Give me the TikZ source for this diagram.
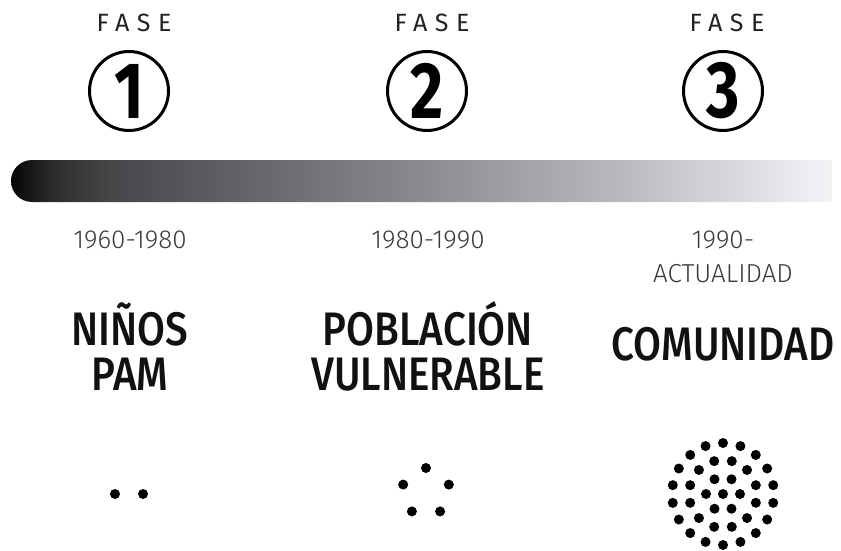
\documentclass[tikz,border=0pt]{standalone}
\usepackage{fontspec}
\usepackage{tikz}
\newfontfamily\lightfont{Fira Sans Light}
\newfontfamily\plainfont{Fira Sans}
\newfontfamily\condfont[FakeStretch=0.86]{Fira Sans Medium}
\newfontfamily\numfont[FakeStretch=0.8]{Fira Sans Bold}
\definecolor{inkgrey}{HTML}{222222}
\definecolor{dategrey}{HTML}{3A3A3A}
\definecolor{titleblack}{HTML}{111111}
\definecolor{bar0}{HTML}{050505}
\definecolor{bar1}{HTML}{2C2B2E}
\definecolor{bar2}{HTML}{464548}
\definecolor{bar3}{HTML}{5E5D62}
\definecolor{bar4}{HTML}{8C8A90}
\definecolor{bar5}{HTML}{BBBAC1}
\definecolor{bar6}{HTML}{F4F4F7}
\pgfdeclarehorizontalshading{timebar}{100bp}{color(0bp)=(bar0); color(25bp)=(bar0); color(27.5bp)=(bar1); color(31bp)=(bar2); color(37.5bp)=(bar3); color(50bp)=(bar4); color(62.5bp)=(bar5); color(75bp)=(bar6); color(100bp)=(bar6)}

\begin{document}
\begin{tikzpicture}
            [every node/.style={inner sep=0pt},
             fase/.style={anchor=base, text=inkgrey, font=\plainfont\fontsize{25}{25}\selectfont\addfontfeature{LetterSpace=30}},
             phase/.style={circle, minimum size=79pt, line width=3pt, draw=black, font=\numfont\fontsize{80}{80}\selectfont},
             date/.style={anchor=base, align=center, text=dategrey, font=\lightfont\fontsize{26}{34}\selectfont},
             title/.style={anchor=base, align=center, text=titleblack, font=\condfont\fontsize{47}{45}\selectfont},
             dot/.style={fill=black}]
                \useasboundingbox (0pt, 0pt) rectangle (841pt, -551pt);
                % phases
                \node (fase1) [fase] at (134pt, -32pt) {FASE};
                \node (fase2) [fase] at (432pt, -32pt) {FASE};
                \node (fase3) [fase] at (727pt, -32pt) {FASE};
                \node (num1) [phase] at (129pt, -91pt) {1};
                \node (num2) [phase] at (427pt, -91pt) {2};
                \node (num3) [phase] at (723pt, -91pt) {3};
                % time bar
                \shade [shading=timebar] (832pt, -160pt) -- (32pt, -160pt) arc [start angle=90, end angle=270, radius=21pt] -- (832pt, -202pt) -- cycle;
                % periods (multi-line nodes sit on their last line)
                \node (date1) [date] at (130pt, -248pt) {1960-1980};
                \node (date2) [date] at (428pt, -248pt) {1980-1990};
                \node (date3) [date] at (723pt, -282pt) {1990-\\ACTUALIDAD};
                \node (title1) [title] at (130pt, -390pt) {NIÑOS\\PAM};
                \node (title2) [title] at (428pt, -390pt) {POBLACIÓN\\VULNERABLE};
                \node (title3) [title] at (723pt, -360pt) {COMUNIDAD};
                % dots
                \coordinate (crowd1) at (129pt, -494pt);
                \coordinate (crowd2) at (426pt, -492pt);
                \coordinate (crowd3) at (723pt, -494pt);
                \fill [dot, shift={(crowd1)}] (-14pt, 0pt) circle (5pt) (14pt, 0pt) circle (5pt);
                \foreach \a in {18, 90, 162, 234, 306}
                    \fill [dot, shift={(crowd2)}] (\a:24pt) circle (5pt);
                \fill [dot] (crowd3) circle (5pt);
                \foreach \a in {0, 60, ..., 300}
                    \fill [dot, shift={(crowd3)}] (\a:17pt) circle (5pt);
                \foreach \a in {15, 45, ..., 345}
                    \fill [dot, shift={(crowd3)}] (\a:34pt) circle (5pt);
                \foreach \a in {10, 30, ..., 350}
                    \fill [dot, shift={(crowd3)}] (\a:51pt) circle (5pt);
            \end{tikzpicture}
\end{document}
